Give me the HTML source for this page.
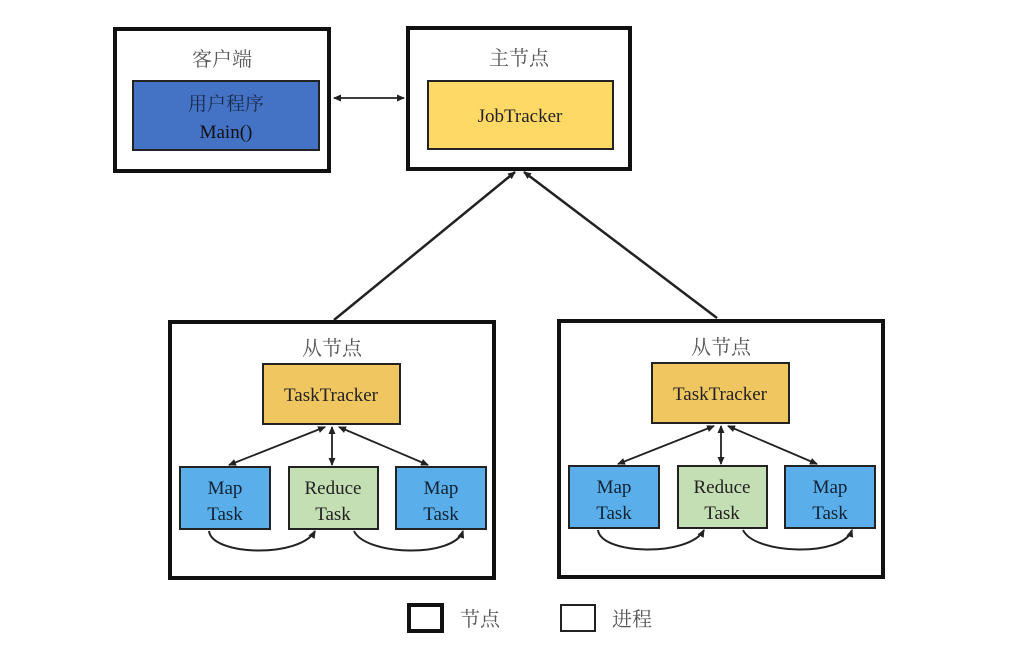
<!DOCTYPE html>
<html><head><meta charset="utf-8"><style>
html,body{margin:0;padding:0;background:#fff;}
svg{display:block;}
text{font-family:"Liberation Serif","Noto Serif CJK SC",serif;}
.zh{font-family:"Liberation Serif","Noto Serif CJK SC",serif;fill:#555;}
</style></head><body>
<svg width="1026" height="645" viewBox="0 0 1026 645" xmlns="http://www.w3.org/2000/svg">
<defs>
<marker id="a" markerWidth="8" markerHeight="8" refX="7" refY="4" orient="auto-start-reverse" markerUnits="userSpaceOnUse">
<path d="M0,0.5 L8,4 L0,7.5 z" fill="#222"/></marker>
</defs>
<rect width="1026" height="645" fill="#fff"/>
<!-- client -->
<rect x="115" y="29" width="214" height="142" fill="#fff" stroke="#111" stroke-width="4"/>
<text x="222" y="66" font-size="20" text-anchor="middle" class="zh">客户端</text>
<rect x="133" y="81" width="186" height="69" fill="#4472c4" stroke="#222" stroke-width="2"/>
<text x="226" y="110" font-size="19" text-anchor="middle" fill="#1a2a4a">用户程序</text>
<text x="226" y="138" font-size="19" text-anchor="middle" fill="#111">Main()</text>
<!-- master -->
<rect x="408" y="28" width="222" height="141" fill="#fff" stroke="#111" stroke-width="4"/>
<text x="519" y="65" font-size="20" text-anchor="middle" class="zh">主节点</text>
<rect x="428" y="81" width="185" height="68" fill="#ffd966" stroke="#222" stroke-width="2"/>
<text x="520" y="122" font-size="19" text-anchor="middle" fill="#222">JobTracker</text>
<line x1="334" y1="98" x2="404" y2="98" stroke="#222" stroke-width="1.8" marker-start="url(#a)" marker-end="url(#a)"/>
<!-- master to slaves -->
<line x1="515" y1="172" x2="334" y2="320" stroke="#222" stroke-width="2.5" marker-start="url(#a)"/>
<line x1="524" y1="172" x2="717" y2="318" stroke="#222" stroke-width="2.5" marker-start="url(#a)"/>
<g id="s">
<rect x="170" y="322" width="324" height="256" fill="#fff" stroke="#111" stroke-width="4"/>
<text x="332" y="355" font-size="20" text-anchor="middle" class="zh">从节点</text>
<rect x="263" y="364" width="137" height="60" fill="#f0c661" stroke="#222" stroke-width="2"/>
<text x="331" y="401" font-size="19" text-anchor="middle" fill="#222">TaskTracker</text>
<rect x="180" y="467" width="90" height="62" fill="#5aaee9" stroke="#222" stroke-width="2"/>
<text x="225" y="494" font-size="19" text-anchor="middle" fill="#123">Map</text>
<text x="225" y="520" font-size="19" text-anchor="middle" fill="#123">Task</text>
<rect x="289" y="467" width="89" height="62" fill="#c5dfb4" stroke="#222" stroke-width="2"/>
<text x="333" y="494" font-size="19" text-anchor="middle" fill="#222">Reduce</text>
<text x="333" y="520" font-size="19" text-anchor="middle" fill="#222">Task</text>
<rect x="396" y="467" width="90" height="62" fill="#5aaee9" stroke="#222" stroke-width="2"/>
<text x="441" y="494" font-size="19" text-anchor="middle" fill="#123">Map</text>
<text x="441" y="520" font-size="19" text-anchor="middle" fill="#123">Task</text>
<line x1="325" y1="427" x2="229" y2="465" stroke="#222" stroke-width="1.8" marker-start="url(#a)" marker-end="url(#a)"/>
<line x1="332" y1="427" x2="332" y2="465" stroke="#222" stroke-width="1.8" marker-start="url(#a)" marker-end="url(#a)"/>
<line x1="339" y1="427" x2="428" y2="465" stroke="#222" stroke-width="1.8" marker-start="url(#a)" marker-end="url(#a)"/>
<path d="M209,531 C212,556 300,558 315,531" fill="none" stroke="#222" stroke-width="2" marker-end="url(#a)"/>
<path d="M354,531 C366,556 454,558 463,531" fill="none" stroke="#222" stroke-width="2" marker-end="url(#a)"/>
</g>
<use href="#s" transform="translate(389,-1)"/>
<!-- legend -->
<rect x="409" y="605" width="33" height="26" fill="#fff" stroke="#111" stroke-width="4"/>
<text x="460" y="626" font-size="20" class="zh">节点</text>
<rect x="561" y="605" width="34" height="26" fill="#fff" stroke="#222" stroke-width="2"/>
<text x="612" y="626" font-size="20" class="zh">进程</text>
</svg>
</body></html>
